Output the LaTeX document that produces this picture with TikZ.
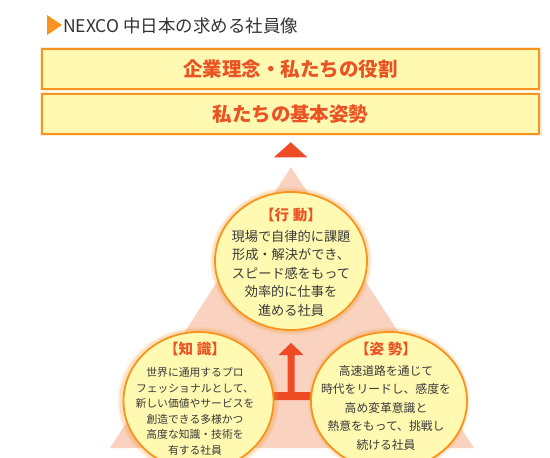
\documentclass[tikz,border=0pt]{standalone}
\usepackage{fontspec}
\setmainfont{Noto Sans CJK JP}
\usetikzlibrary{shapes.geometric}
\definecolor{paleyellow}{HTML}{FFF9B1}
\definecolor{orangeline}{HTML}{F7931E}
\definecolor{redtext}{HTML}{EA5424}
\definecolor{redarrow}{HTML}{EE4A24}
\definecolor{peach}{HTML}{F9D3C0}
\definecolor{bodytext}{HTML}{3A3A3A}
\definecolor{titlegray}{HTML}{333333}
\tikzset{
  headbox/.style={draw=orangeline, line width=2pt, fill=paleyellow, inner sep=0pt,
    minimum width=497pt, minimum height=39.5pt, text=redtext,
    font=\fontsize{19.5}{22}\selectfont\bfseries},
  halo/.style={draw=orangeline, line width=5pt, draw opacity=0.18},
  bubble/.style={ellipse, draw=orangeline, line width=1.8pt, fill=paleyellow, inner sep=0pt},
  bubbletext/.style={align=center, text=bodytext, inner sep=0pt},
}
\begin{document}
\begin{tikzpicture}[x=1pt,y=-1pt]
\useasboundingbox (0,0) rectangle (550,458);
\clip (0,0) rectangle (550,458);

% heading
\fill[orangeline] (47,15) -- (62,25) -- (47,35) -- cycle;
\node[anchor=west, inner sep=0pt, text=titlegray] (title) at (63,26)
  {\fontsize{17.5}{20}\selectfont NEXCO 中日本の求める社員像};

% header boxes
\draw[halo] (42,49.3) rectangle (539,88.5);
\draw[halo] (42,94) rectangle (539,133.5);
\node[headbox] (b1) at (290.5,69) {企業理念・私たちの役割};
\node[headbox] (b2) at (290.5,113.8) {私たちの基本姿勢};

% red triangle
\fill[redarrow] (274,157.3) -- (307.3,157.3) -- (290.7,142.3) -- cycle;

% pale triangle
\fill[peach] (291,167) -- (474,448) -- (110,448) -- cycle;

% arrow
\fill[redarrow] (291,343) -- (303.5,355) -- (294.5,355) -- (294.5,392) -- (315,392)
  -- (315,400) -- (267,400) -- (267,392) -- (287.5,392) -- (287.5,355) -- (278.5,355) -- cycle;

% bubbles with soft glow
\foreach \cx/\cy in {291/261, 198.5/401, 389/401}{
  \draw[orangeline, line width=8pt, opacity=0.10] (\cx,\cy) ellipse [x radius=77, y radius=70];
  \draw[orangeline, line width=4.5pt, opacity=0.20] (\cx,\cy) ellipse [x radius=77, y radius=70];
}
\node[bubble, minimum width=152pt, minimum height=138pt] (act) at (291,261) {};
\node[bubble, minimum width=150pt, minimum height=138pt] (know) at (198.5,401) {};
\node[bubble, minimum width=156pt, minimum height=138pt] (att) at (389,401) {};

\node[bubbletext, font=\fontsize{13.2}{18.5}\selectfont] (actt) at (291,262)
  {{\fontsize{14.5}{18.5}\selectfont\bfseries\color{redtext}【行\kern0.25em 動】}\\[2.5pt]
   現場で自律的に課題\\形成・解決ができ、\\スピード感をもって\\効率的に仕事を\\進める社員};
\node[bubbletext, font=\fontsize{10.8}{15.6}\selectfont] (knowt) at (195,399)
  {{\fontsize{14.5}{15.6}\selectfont\bfseries\color{redtext}【知\kern0.25em 識】}\\[6pt]
   世界に通用するプロ\\フェッショナルとして、\\新しい価値やサービスを\\創造できる多様かつ\\高度な知識・技術を\\有する社員};
\node[bubbletext, font=\fontsize{11.8}{18.5}\selectfont] (attt) at (386,396)
  {{\fontsize{14.5}{18.5}\selectfont\bfseries\color{redtext}【姿\kern0.25em 勢】}\\[2.5pt]
   高速道路を通じて\\時代をリードし、感度を\\高め変革意識と\\熱意をもって、挑戦し\\続ける社員};
\end{tikzpicture}
\end{document}
